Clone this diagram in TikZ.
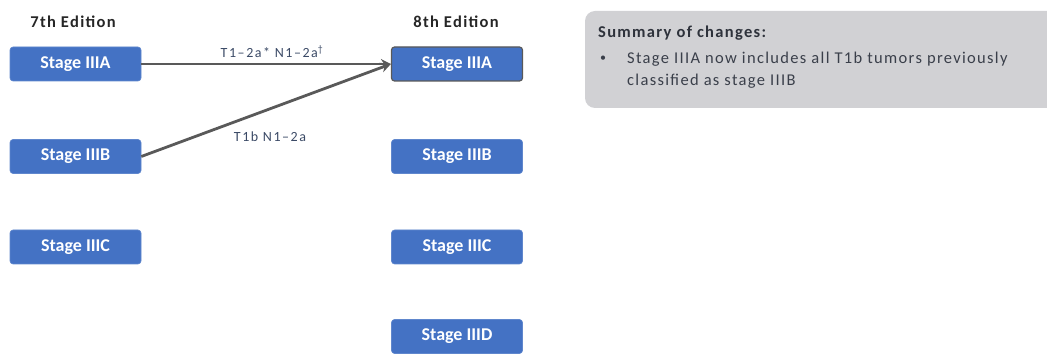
\documentclass[tikz,border=0pt]{standalone}
\usepackage{fontspec}
\setmainfont{Carlito}
\newfontfamily\spacedfont[LetterSpace=8]{Carlito}
\newfontfamily\labelfont[LetterSpace=11]{Carlito}
\usetikzlibrary{arrows.meta}
\definecolor{stageblue}{HTML}{4472C4}
\definecolor{arrowgray}{HTML}{595959}
\definecolor{labeltext}{HTML}{3B4A66}
\definecolor{summarygray}{HTML}{D1D1D4}
\definecolor{summarytext}{HTML}{3A3F4A}
\begin{document}
\begin{tikzpicture}[x=1pt,y=-1pt]
			\tikzset{stagebox/.style={fill=stageblue,draw=stageblue!85!white,line width=0.6pt,rounded corners=3pt,minimum width=131pt,minimum height=34pt,inner sep=0pt,text=white,font=\fontsize{18}{20}\selectfont\bfseries},
			edition/.style={anchor=base,inner sep=0pt,font=\fontsize{16.5}{19}\spacedfont\bfseries,text=black!85},
			move/.style={draw=arrowgray,line width=2.8pt,-{Stealth[length=10pt,width=10pt]}},
			movelabel/.style={anchor=base,inner sep=0pt,font=\fontsize{14}{16}\labelfont,text=labeltext}}
			\useasboundingbox (0,0) rectangle (1047,355);
			% editions
			\node [edition] (seventh) at (73,28) {7th Edition};
			\node [edition] (eighth) at (456,28) {8th Edition};
			% 7th edition stages
			\node [stagebox] (sevenA) at (75.5,64) {Stage IIIA};
			\node [stagebox] (sevenB) at (75.5,156.5) {Stage IIIB};
			\node [stagebox] (sevenC) at (75.5,247) {Stage IIIC};
			% 8th edition stages
			\node [stagebox,draw=black!65,line width=1.2pt] (eightA) at (457,64) {Stage IIIA};
			\node [stagebox] (eightB) at (457,156.5) {Stage IIIB};
			\node [stagebox] (eightC) at (457,247) {Stage IIIC};
			\node [stagebox] (eightD) at (457,336.5) {Stage IIID};
			% moves
			\draw [move] (sevenA.east) -- (eightA.west);
			\draw [move] (sevenB.east) -- (eightA.west);
			\node [movelabel] (labelA) at (272,58) {T1\textendash2a* N1\textendash2a\textsuperscript{\textdagger}};
			\node [movelabel] (labelB) at (270,142) {T1b N1\textendash2a};
			% summary
			\fill [summarygray,rounded corners=10pt] (585,11) rectangle (1075,108);
			\node [anchor=base west,inner sep=0pt,font=\fontsize{16.5}{19}\spacedfont\bfseries,text=summarytext!80!black] (sumhead) at (598,38) {Summary of changes:};
			\node [anchor=base west,inner sep=0pt,font=\fontsize{12}{14}\selectfont,text=summarytext] (bullet) at (600,62) {\textbullet};
			\node [anchor=base west,inner sep=0pt,font=\fontsize{16.5}{19}\spacedfont,text=summarytext] (sumline) at (627,64) {Stage IIIA now includes all T1b tumors previously};
			\node [anchor=base west,inner sep=0pt,font=\fontsize{16.5}{19}\spacedfont,text=summarytext] (sumlinetwo) at (627,86) {classified as stage IIIB};
\end{tikzpicture}
\end{document}
